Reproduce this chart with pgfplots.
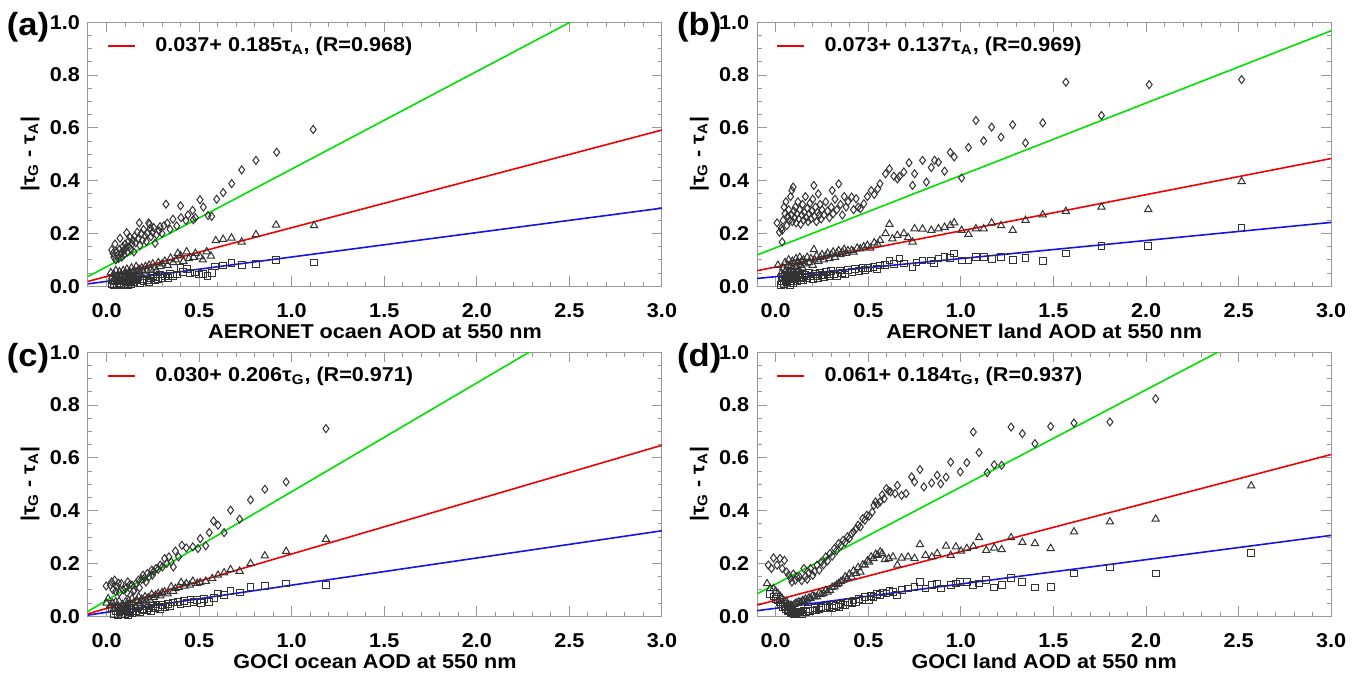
\documentclass[border=0pt]{standalone}
\usepackage{fontspec}
\setmainfont[FakeStretch=1.08]{Liberation Sans}
\usepackage{pgfplots}
\pgfplotsset{compat=1.18}
\usepackage{pgfplotstable}
\definecolor{lgreen}{RGB}{0,225,0}
\definecolor{lred}{RGB}{240,0,0}
\definecolor{lblue}{RGB}{20,20,230}
\newcommand\tf{\fontsize{10}{11}\selectfont\bfseries}
\newcommand\bigf{\fontsize{16}{18}\selectfont\bfseries}

\pgfplotsset{
  panel/.style={
    scale only axis, width=287pt, height=132pt, anchor=south west,
    xmin=-0.1, xmax=3.0, ymin=0, ymax=1.0,
    xtick={0,0.5,1,1.5,2,2.5,3}, ytick={0,0.2,0.4,0.6,0.8,1.0},
    xticklabels={0.0,0.5,1.0,1.5,2.0,2.5,3.0},
    yticklabels={0.0,0.2,0.4,0.6,0.8,\raisebox{-3.5pt}{1.0}},
    minor x tick num=4, minor y tick num=3,
    tick align=inside,
    major tick length=5pt, minor tick length=2.2pt,
    axis line style={black!40, line width=0.5pt},
    tick style={black!40, line width=0.5pt},
    tick label style={font=\tf, text=black},
    xticklabel style={yshift=-5pt},
    yticklabel style={xshift=-0.5pt},
    label style={font=\tf},
    xlabel style={at={(axis description cs:0.5,0)}, anchor=center, yshift=-22.5pt},
    ylabel={|τ\textsubscript{G} - τ\textsubscript{A}|},
    ylabel style={at={(axis description cs:-0.101,0.5)}, anchor=center},
  },
  dmark/.style={only marks, mark=diamond, mark size=2pt, black!80, mark options={line width=0.5pt, fill=none}},
  tmark/.style={only marks, mark=triangle, mark size=2.1pt, black!80, mark options={line width=0.5pt, fill=none}},
  smark/.style={only marks, mark=square, mark size=1.7pt, black!80, mark options={line width=0.5pt, fill=none}},
  gline/.style={draw=lgreen, line width=0.8pt},
  bline/.style={draw=lblue, line width=0.8pt},
  rline/.style={draw=lred, line width=0.8pt},
}

% ---------------- panel (a)
\pgfplotstableread{
x y
0.028 0.138
0.035 0.125
0.040 0.110
0.046 0.160
0.050 0.100
0.055 0.130
0.060 0.118
0.065 0.105
0.070 0.140
0.073 0.182
0.078 0.125
0.082 0.110
0.088 0.150
0.092 0.135
0.095 0.120
0.100 0.160
0.105 0.145
0.109 0.203
0.112 0.130
0.118 0.170
0.122 0.150
0.127 0.185
0.132 0.140
0.138 0.160
0.142 0.175
0.148 0.130
0.152 0.190
0.158 0.165
0.166 0.205
0.170 0.180
0.177 0.240
0.180 0.155
0.188 0.200
0.195 0.175
0.200 0.215
0.208 0.190
0.215 0.170
0.220 0.200
0.228 0.240
0.232 0.235
0.236 0.220
0.240 0.188
0.248 0.205
0.255 0.222
0.262 0.163
0.270 0.195
0.283 0.210
0.289 0.226
0.300 0.200
0.310 0.230
0.321 0.311
0.328 0.239
0.343 0.216
0.359 0.254
0.379 0.229
0.400 0.305
0.402 0.260
0.429 0.249
0.440 0.270
0.465 0.288
0.469 0.252
0.480 0.260
0.505 0.328
0.523 0.300
0.548 0.268
0.568 0.265
0.595 0.330
0.630 0.355
0.676 0.389
0.730 0.441
0.807 0.477
0.919 0.508
1.116 0.594
}\adia
\pgfplotstableread{
x y
0.023 0.052
0.030 0.035
0.035 0.020
0.040 0.045
0.045 0.030
0.050 0.060
0.055 0.015
0.060 0.040
0.065 0.025
0.070 0.055
0.075 0.035
0.080 0.045
0.085 0.020
0.090 0.060
0.095 0.040
0.100 0.030
0.105 0.050
0.110 0.065
0.115 0.035
0.120 0.045
0.125 0.055
0.130 0.040
0.135 0.070
0.140 0.050
0.145 0.030
0.150 0.060
0.155 0.045
0.160 0.075
0.165 0.055
0.170 0.040
0.175 0.065
0.180 0.050
0.190 0.070
0.200 0.055
0.210 0.075
0.220 0.060
0.230 0.080
0.240 0.065
0.250 0.085
0.260 0.070
0.270 0.060
0.280 0.090
0.290 0.075
0.300 0.085
0.315 0.095
0.330 0.080
0.346 0.107
0.360 0.090
0.375 0.100
0.385 0.125
0.400 0.116
0.415 0.095
0.433 0.131
0.445 0.105
0.470 0.110
0.480 0.125
0.505 0.112
0.520 0.100
0.541 0.131
0.564 0.115
0.590 0.173
0.630 0.178
0.675 0.183
0.730 0.168
0.807 0.196
0.916 0.232
1.121 0.230
}\atri
\pgfplotstableread{
x y
0.030 0.010
0.035 0.025
0.040 0.005
0.045 0.018
0.050 0.030
0.055 0.008
0.060 0.020
0.065 0.035
0.070 0.012
0.075 0.025
0.080 0.005
0.085 0.030
0.090 0.018
0.095 0.010
0.100 0.025
0.105 0.035
0.110 0.015
0.115 0.005
0.120 0.028
0.125 0.018
0.130 0.040
0.135 0.010
0.140 0.025
0.145 0.032
0.150 0.015
0.160 0.022
0.170 0.035
0.180 0.012
0.190 0.028
0.200 0.020
0.210 0.038
0.220 0.025
0.230 0.015
0.240 0.030
0.250 0.040
0.260 0.022
0.270 0.035
0.280 0.028
0.290 0.045
0.300 0.032
0.315 0.040
0.330 0.030
0.345 0.048
0.360 0.038
0.380 0.045
0.400 0.069
0.415 0.055
0.433 0.067
0.450 0.050
0.480 0.052
0.500 0.045
0.523 0.047
0.545 0.040
0.568 0.049
0.588 0.075
0.630 0.079
0.675 0.087
0.730 0.080
0.807 0.085
0.916 0.100
1.120 0.090
}\asqr

% ---------------- panel (b)
\pgfplotstableread{
x y
0.007 0.240
0.020 0.205
0.030 0.220
0.035 0.168
0.035 0.212
0.040 0.250
0.045 0.300
0.050 0.275
0.055 0.320
0.060 0.230
0.065 0.265
0.070 0.290
0.075 0.250
0.080 0.340
0.085 0.270
0.087 0.363
0.090 0.245
0.094 0.376
0.098 0.285
0.102 0.260
0.106 0.300
0.110 0.240
0.115 0.275
0.120 0.320
0.125 0.255
0.130 0.290
0.135 0.235
0.140 0.270
0.145 0.310
0.150 0.250
0.155 0.280
0.160 0.340
0.165 0.260
0.170 0.295
0.175 0.245
0.180 0.275
0.185 0.315
0.190 0.255
0.195 0.285
0.200 0.330
0.206 0.382
0.210 0.265
0.215 0.300
0.220 0.245
0.225 0.280
0.230 0.350
0.235 0.270
0.240 0.310
0.245 0.255
0.250 0.290
0.260 0.270
0.270 0.320
0.280 0.285
0.290 0.260
0.300 0.300
0.305 0.363
0.310 0.275
0.320 0.330
0.330 0.290
0.340 0.388
0.350 0.310
0.360 0.270
0.370 0.340
0.380 0.300
0.390 0.320
0.410 0.338
0.420 0.290
0.434 0.332
0.445 0.300
0.457 0.294
0.476 0.313
0.495 0.340
0.516 0.363
0.532 0.348
0.551 0.369
0.563 0.388
0.593 0.426
0.614 0.445
0.638 0.417
0.657 0.407
0.668 0.416
0.692 0.433
0.720 0.468
0.739 0.382
0.750 0.426
0.793 0.477
0.814 0.395
0.840 0.450
0.858 0.477
0.879 0.470
0.912 0.436
0.943 0.507
0.964 0.490
1.004 0.410
1.041 0.526
1.081 0.628
1.123 0.551
1.166 0.603
1.217 0.565
1.280 0.612
1.349 0.543
1.442 0.619
1.567 0.773
1.759 0.647
2.017 0.764
2.516 0.783
}\bdia
\pgfplotstableread{
x y
0.012 0.080
0.030 0.050
0.040 0.070
0.045 0.030
0.050 0.090
0.055 0.060
0.060 0.045
0.065 0.080
0.070 0.100
0.075 0.055
0.080 0.075
0.085 0.040
0.090 0.095
0.095 0.065
0.100 0.085
0.105 0.050
0.110 0.105
0.115 0.075
0.120 0.090
0.125 0.060
0.130 0.110
0.135 0.080
0.140 0.095
0.145 0.070
0.150 0.100
0.160 0.085
0.170 0.110
0.180 0.090
0.190 0.105
0.200 0.080
0.206 0.139
0.210 0.100
0.220 0.115
0.230 0.095
0.240 0.110
0.250 0.120
0.260 0.100
0.270 0.115
0.280 0.125
0.290 0.105
0.300 0.120
0.310 0.130
0.320 0.110
0.330 0.125
0.340 0.135
0.350 0.120
0.360 0.130
0.370 0.140
0.380 0.125
0.390 0.135
0.410 0.136
0.420 0.130
0.440 0.145
0.457 0.142
0.475 0.150
0.495 0.155
0.510 0.145
0.532 0.165
0.550 0.160
0.563 0.174
0.593 0.200
0.614 0.235
0.630 0.180
0.657 0.193
0.692 0.200
0.715 0.185
0.739 0.168
0.750 0.218
0.793 0.217
0.840 0.212
0.879 0.218
0.912 0.224
0.943 0.231
0.964 0.241
1.004 0.212
1.041 0.197
1.081 0.218
1.123 0.218
1.166 0.240
1.217 0.230
1.280 0.212
1.349 0.250
1.442 0.271
1.567 0.284
1.759 0.300
2.012 0.291
2.516 0.397
}\btri
\pgfplotstableread{
x y
0.030 0.005
0.035 0.020
0.040 0.035
0.045 0.010
0.050 0.045
0.055 0.025
0.060 0.015
0.065 0.040
0.070 0.030
0.075 0.005
0.080 0.050
0.085 0.020
0.090 0.035
0.095 0.012
0.100 0.045
0.105 0.028
0.110 0.040
0.115 0.018
0.120 0.050
0.125 0.030
0.130 0.042
0.135 0.022
0.140 0.048
0.145 0.035
0.150 0.025
0.160 0.045
0.170 0.030
0.180 0.050
0.190 0.038
0.200 0.028
0.210 0.048
0.220 0.040
0.230 0.030
0.240 0.052
0.250 0.042
0.260 0.035
0.270 0.055
0.280 0.045
0.290 0.038
0.300 0.058
0.315 0.048
0.330 0.040
0.345 0.060
0.360 0.050
0.375 0.045
0.390 0.062
0.410 0.055
0.430 0.065
0.450 0.058
0.470 0.068
0.481 0.063
0.500 0.070
0.528 0.073
0.545 0.065
0.563 0.079
0.590 0.080
0.614 0.098
0.640 0.085
0.668 0.105
0.692 0.086
0.739 0.073
0.760 0.090
0.793 0.098
0.840 0.098
0.856 0.086
0.879 0.105
0.912 0.111
0.943 0.106
0.964 0.124
1.004 0.098
1.041 0.098
1.081 0.111
1.123 0.112
1.166 0.103
1.217 0.111
1.280 0.100
1.349 0.108
1.442 0.095
1.567 0.124
1.759 0.153
2.012 0.153
2.516 0.221
}\bsqr

% ---------------- panel (c)
\pgfplotstableread{
x y
-0.002 0.115
0.021 0.118
0.028 0.130
0.035 0.100
0.044 0.137
0.050 0.095
0.056 0.112
0.065 0.125
0.070 0.090
0.080 0.124
0.090 0.100
0.103 0.105
0.110 0.090
0.115 0.130
0.126 0.120
0.138 0.118
0.145 0.095
0.150 0.099
0.160 0.125
0.173 0.137
0.178 0.108
0.190 0.140
0.197 0.156
0.205 0.145
0.213 0.130
0.220 0.162
0.230 0.150
0.244 0.175
0.248 0.156
0.255 0.170
0.267 0.181
0.279 0.178
0.290 0.194
0.302 0.187
0.314 0.219
0.325 0.200
0.337 0.225
0.349 0.206
0.361 0.187
0.372 0.247
0.389 0.225
0.407 0.269
0.431 0.259
0.466 0.263
0.494 0.257
0.506 0.294
0.536 0.267
0.555 0.317
0.578 0.361
0.602 0.345
0.635 0.317
0.670 0.402
0.719 0.368
0.778 0.441
0.855 0.481
0.970 0.509
1.185 0.711
}\cdia
\pgfplotstableread{
x y
0.000 0.050
0.009 0.067
0.020 0.040
0.033 0.049
0.040 0.030
0.050 0.055
0.060 0.035
0.068 0.057
0.075 0.025
0.085 0.045
0.095 0.030
0.103 0.055
0.110 0.040
0.120 0.060
0.130 0.045
0.138 0.067
0.145 0.050
0.155 0.035
0.165 0.060
0.173 0.074
0.180 0.050
0.190 0.065
0.200 0.055
0.208 0.074
0.215 0.060
0.225 0.070
0.235 0.062
0.244 0.083
0.255 0.072
0.265 0.080
0.279 0.086
0.290 0.078
0.300 0.090
0.314 0.093
0.330 0.085
0.349 0.112
0.360 0.095
0.372 0.105
0.390 0.110
0.403 0.128
0.420 0.115
0.431 0.124
0.450 0.118
0.466 0.133
0.490 0.125
0.506 0.128
0.536 0.133
0.571 0.143
0.602 0.156
0.635 0.165
0.670 0.177
0.719 0.171
0.778 0.200
0.855 0.229
0.970 0.246
1.185 0.292
}\ctri
\pgfplotstableread{
x y
0.030 0.030
0.040 0.010
0.050 0.020
0.060 0.005
0.065 0.030
0.070 0.015
0.080 0.025
0.085 0.008
0.090 0.035
0.095 0.018
0.100 0.010
0.105 0.028
0.110 0.020
0.115 0.005
0.120 0.032
0.125 0.015
0.130 0.025
0.140 0.012
0.150 0.030
0.160 0.020
0.170 0.035
0.180 0.015
0.190 0.028
0.200 0.022
0.210 0.038
0.220 0.025
0.230 0.032
0.240 0.020
0.250 0.040
0.260 0.030
0.270 0.045
0.280 0.035
0.290 0.028
0.300 0.042
0.315 0.035
0.330 0.048
0.345 0.040
0.360 0.052
0.384 0.055
0.400 0.045
0.419 0.057
0.435 0.050
0.454 0.064
0.470 0.055
0.490 0.061
0.510 0.050
0.525 0.067
0.555 0.055
0.580 0.070
0.602 0.086
0.635 0.080
0.670 0.095
0.719 0.090
0.778 0.111
0.855 0.115
0.970 0.124
1.185 0.118
}\csqr

% ---------------- panel (d)
\pgfplotstableread{
x y
-0.040 0.194
-0.023 0.181
-0.012 0.221
0.007 0.194
0.023 0.219
0.035 0.181
0.047 0.212
0.059 0.168
0.070 0.156
0.080 0.145
0.087 0.130
0.095 0.160
0.106 0.137
0.115 0.150
0.129 0.149
0.140 0.135
0.152 0.181
0.160 0.150
0.170 0.140
0.180 0.165
0.188 0.181
0.200 0.155
0.210 0.170
0.223 0.194
0.235 0.175
0.246 0.206
0.258 0.195
0.270 0.225
0.280 0.210
0.293 0.238
0.305 0.228
0.317 0.257
0.328 0.248
0.340 0.276
0.352 0.268
0.364 0.288
0.375 0.280
0.387 0.301
0.398 0.295
0.410 0.313
0.420 0.320
0.434 0.332
0.445 0.345
0.457 0.339
0.470 0.370
0.481 0.364
0.492 0.383
0.505 0.380
0.521 0.395
0.530 0.420
0.539 0.433
0.550 0.425
0.563 0.433
0.575 0.460
0.586 0.446
0.598 0.484
0.610 0.475
0.621 0.471
0.645 0.465
0.657 0.496
0.680 0.458
0.704 0.465
0.734 0.528
0.750 0.509
0.779 0.556
0.800 0.490
0.842 0.505
0.872 0.534
0.891 0.502
0.920 0.527
0.945 0.584
0.997 0.547
1.032 0.582
1.067 0.698
1.098 0.620
1.142 0.544
1.180 0.574
1.220 0.572
1.271 0.717
1.332 0.692
1.400 0.654
1.485 0.719
1.611 0.732
1.805 0.736
2.052 0.824
}\ddia
\pgfplotstableread{
x y
-0.047 0.124
-0.030 0.105
-0.012 0.105
0.000 0.095
0.012 0.086
0.025 0.075
0.035 0.067
0.045 0.058
0.059 0.055
0.065 0.045
0.075 0.040
0.082 0.042
0.090 0.038
0.100 0.045
0.110 0.050
0.117 0.049
0.125 0.055
0.135 0.052
0.145 0.060
0.152 0.057
0.160 0.065
0.170 0.062
0.180 0.070
0.188 0.067
0.200 0.078
0.210 0.074
0.223 0.074
0.235 0.088
0.245 0.083
0.258 0.086
0.270 0.098
0.280 0.092
0.293 0.099
0.305 0.110
0.317 0.112
0.330 0.120
0.340 0.124
0.352 0.132
0.364 0.137
0.375 0.150
0.387 0.143
0.398 0.160
0.410 0.149
0.420 0.172
0.434 0.162
0.445 0.185
0.457 0.168
0.470 0.195
0.481 0.194
0.495 0.210
0.504 0.206
0.515 0.225
0.528 0.219
0.540 0.235
0.551 0.231
0.564 0.244
0.575 0.238
0.590 0.215
0.610 0.219
0.633 0.225
0.657 0.194
0.680 0.221
0.715 0.225
0.750 0.219
0.779 0.272
0.809 0.231
0.844 0.225
0.872 0.238
0.920 0.266
0.945 0.231
0.973 0.263
1.001 0.247
1.032 0.257
1.067 0.265
1.098 0.298
1.137 0.250
1.180 0.259
1.220 0.253
1.271 0.298
1.332 0.280
1.400 0.276
1.485 0.257
1.611 0.320
1.805 0.358
2.052 0.368
2.568 0.494
}\dtri
\pgfplotstableread{
x y
-0.030 0.085
-0.010 0.075
0.000 0.067
0.010 0.060
0.023 0.055
0.030 0.045
0.040 0.035
0.047 0.040
0.055 0.028
0.065 0.020
0.070 0.023
0.080 0.012
0.090 0.015
0.094 0.017
0.100 0.008
0.110 0.012
0.120 0.018
0.129 0.015
0.140 0.010
0.150 0.022
0.164 0.017
0.175 0.028
0.185 0.020
0.200 0.022
0.210 0.032
0.220 0.025
0.235 0.026
0.245 0.036
0.255 0.030
0.270 0.030
0.280 0.040
0.290 0.034
0.305 0.032
0.315 0.044
0.325 0.038
0.340 0.036
0.350 0.048
0.364 0.042
0.375 0.042
0.390 0.055
0.410 0.049
0.420 0.060
0.434 0.055
0.450 0.065
0.469 0.061
0.480 0.072
0.504 0.061
0.515 0.078
0.528 0.074
0.545 0.085
0.563 0.080
0.580 0.090
0.598 0.086
0.615 0.095
0.633 0.092
0.657 0.080
0.680 0.099
0.715 0.105
0.750 0.112
0.779 0.130
0.809 0.105
0.844 0.118
0.872 0.124
0.891 0.105
0.945 0.118
0.973 0.124
0.997 0.130
1.032 0.130
1.067 0.118
1.098 0.124
1.137 0.139
1.180 0.109
1.220 0.118
1.271 0.146
1.332 0.130
1.400 0.109
1.485 0.112
1.611 0.162
1.805 0.185
2.052 0.162
2.568 0.241
}\dsqr

\begin{document}
\begin{tikzpicture}
\path[use as bounding box] (0,0) rectangle (680pt,337.5pt);

% (a)
\begin{axis}[panel, name=pa, at={(44pt,194.35pt)}, xlabel={AERONET ocaen AOD at 550 nm}]
\addplot[dmark] table {\adia};
\addplot[tmark] table {\atri};
\addplot[smark] table {\asqr};
\addplot[gline] coordinates {(-0.1,0.037) (3.0,1.184)};
\addplot[bline] coordinates {(-0.1,0.00925) (3.0,0.296)};
\addplot[rline] coordinates {(-0.1,0.0185) (3.0,0.592)};
\end{axis}
\node[font=\bigf] at ([xshift=-30pt,yshift=-2.4pt]pa.north west) {(a)};
\draw[draw=lred, line width=1pt] ([xshift=10pt,yshift=-11.8pt]pa.north west) -- ++(13.5pt,0pt);
\node[font=\tf, anchor=west, inner sep=0pt] at ([xshift=33.5pt,yshift=-11.8pt]pa.north west)
  {0.037+ 0.185τ\textsubscript{A}, (R=0.968)};

% (b)
\begin{axis}[panel, name=pb, at={(378.6pt,194.35pt)}, xlabel={AERONET land AOD at 550 nm}]
\addplot[dmark] table {\bdia};
\addplot[tmark] table {\btri};
\addplot[smark] table {\bsqr};
\addplot[gline] coordinates {(-0.1,0.1186) (3.0,0.968)};
\addplot[bline] coordinates {(-0.1,0.02965) (3.0,0.242)};
\addplot[rline] coordinates {(-0.1,0.0593) (3.0,0.484)};
\end{axis}
\node[font=\bigf] at ([xshift=-29pt,yshift=-2.4pt]pb.north west) {(b)};
\draw[draw=lred, line width=1pt] ([xshift=10pt,yshift=-11.8pt]pb.north west) -- ++(13.5pt,0pt);
\node[font=\tf, anchor=west, inner sep=0pt] at ([xshift=33.5pt,yshift=-11.8pt]pb.north west)
  {0.073+ 0.137τ\textsubscript{A}, (R=0.969)};

% (c)
\begin{axis}[panel, name=pc, at={(44pt,29.35pt)}, xlabel={GOCI ocean AOD at 550 nm}]
\addplot[dmark] table {\cdia};
\addplot[tmark] table {\ctri};
\addplot[smark] table {\csqr};
\addplot[gline] coordinates {(-0.1,0.0188) (3.0,1.296)};
\addplot[bline] coordinates {(-0.1,0.0047) (3.0,0.324)};
\addplot[rline] coordinates {(-0.1,0.0094) (3.0,0.648)};
\end{axis}
\node[font=\bigf] at ([xshift=-30pt,yshift=-3pt]pc.north west) {(c)};
\draw[draw=lred, line width=1pt] ([xshift=10pt,yshift=-11.8pt]pc.north west) -- ++(13.5pt,0pt);
\node[font=\tf, anchor=west, inner sep=0pt] at ([xshift=33.5pt,yshift=-11.8pt]pc.north west)
  {0.030+ 0.206τ\textsubscript{G}, (R=0.971)};

% (d)
\begin{axis}[panel, name=pd, at={(378.6pt,29.35pt)}, xlabel={GOCI land AOD at 550 nm}]
\addplot[dmark] table {\ddia};
\addplot[tmark] table {\dtri};
\addplot[smark] table {\dsqr};
\addplot[gline] coordinates {(-0.1,0.0852) (3.0,1.226)};
\addplot[bline] coordinates {(-0.1,0.0213) (3.0,0.3065)};
\addplot[rline] coordinates {(-0.1,0.0426) (3.0,0.613)};
\end{axis}
\node[font=\bigf] at ([xshift=-29pt,yshift=-3pt]pd.north west) {(d)};
\draw[draw=lred, line width=1pt] ([xshift=10pt,yshift=-11.8pt]pd.north west) -- ++(13.5pt,0pt);
\node[font=\tf, anchor=west, inner sep=0pt] at ([xshift=33.5pt,yshift=-11.8pt]pd.north west)
  {0.061+ 0.184τ\textsubscript{G}, (R=0.937)};
\end{tikzpicture}
\end{document}
